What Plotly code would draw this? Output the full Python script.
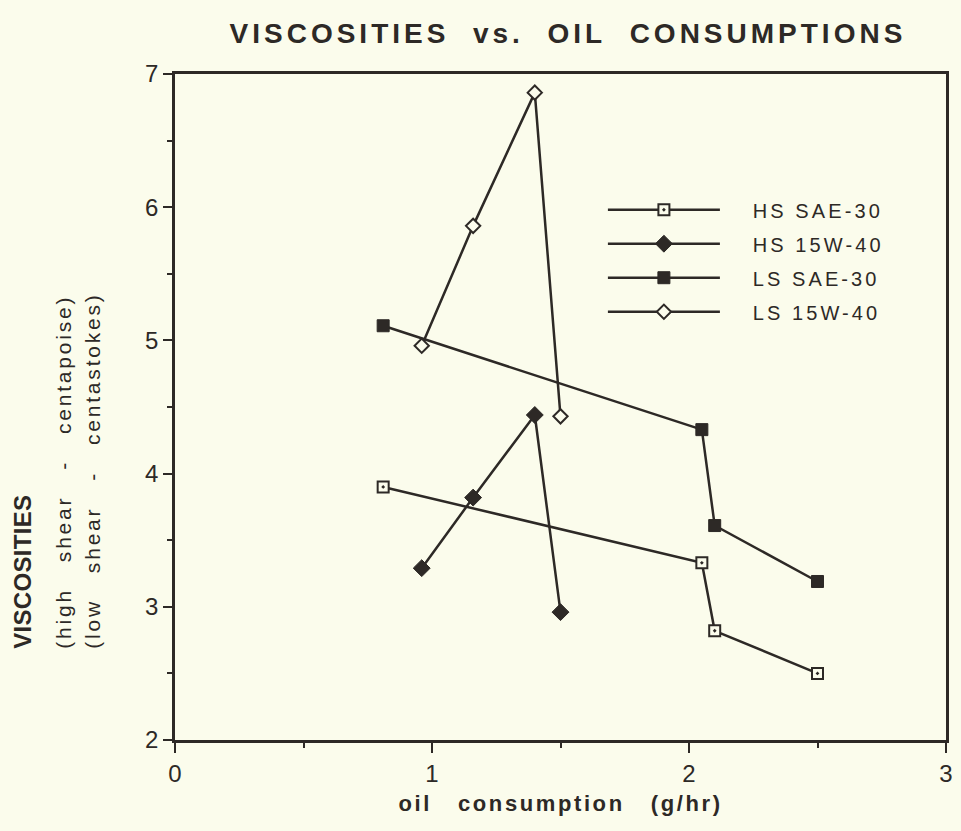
import plotly.graph_objects as go

# ---- data ----
x_hs_sae30 = [0.81, 2.05, 2.10, 2.50]
y_hs_sae30 = [3.90, 3.33, 2.82, 2.50]

x_hs_15w40 = [0.96, 1.16, 1.40, 1.50]
y_hs_15w40 = [3.29, 3.82, 4.44, 2.96]

x_ls_sae30 = [0.81, 2.05, 2.10, 2.50]
y_ls_sae30 = [5.11, 4.33, 3.61, 3.19]

x_ls_15w40 = [0.96, 1.16, 1.40, 1.50]
y_ls_15w40 = [4.96, 5.86, 6.86, 4.43]

series_names = ["HS SAE-30", "HS 15W-40", "LS SAE-30", "LS 15W-40"]
x_ticks = [0, 1, 2, 3]
y_ticks = [2, 3, 4, 5, 6, 7]

BG = "#fbfcec"
INK = "#2d2926"
FONT = "Liberation Sans, Arial, sans-serif"
SP = "&nbsp;"


def spaced(txt, ls):
    return f'<span style="letter-spacing:{ls}px">{txt}</span>'


fig = go.Figure()

styles = [
    dict(symbol="square-dot", size=11, color=BG, line=dict(color=INK, width=2)),
    dict(symbol="diamond", size=13, color=INK, line=dict(color=INK, width=1)),
    dict(symbol="square", size=12, color=INK, line=dict(color=INK, width=1)),
    dict(symbol="diamond", size=11, color=BG, line=dict(color=INK, width=2)),
]
data = [(x_hs_sae30, y_hs_sae30), (x_hs_15w40, y_hs_15w40),
        (x_ls_sae30, y_ls_sae30), (x_ls_15w40, y_ls_15w40)]

for i, ((xs, ys), name, mk) in enumerate(zip(data, series_names, styles)):
    fig.add_trace(go.Scatter(
        x=xs, y=ys, name=SP * 5 + spaced(name, 3.1), mode="lines+markers",
        line=dict(color=INK, width=2.5),
        marker=mk, legendgroup=f"g{i}", cliponaxis=False,
    ))

fig.update_layout(
    width=961, height=831,
    margin=dict(l=175, r=8, t=74, b=91),
    paper_bgcolor=BG, plot_bgcolor=BG,
    font=dict(family=FONT, color=INK, size=20),
    showlegend=True,
    legend=dict(
        x=0.555, y=0.8255, xanchor="left", yanchor="top",
        bgcolor="rgba(0,0,0,0)", borderwidth=0,
        font=dict(size=20, color=INK),
        itemwidth=112, traceorder="grouped", tracegroupgap=5,
    ),
    title=dict(
        text=spaced(f"VISCOSITIES{SP*2}vs.{SP*2}OIL{SP*2}CONSUMPTIONS", 4),
        x=0.591, xanchor="center", y=0.96, yanchor="middle",
        font=dict(size=28, family=FONT, color=INK, weight="bold"),
    ),
    xaxis=dict(
        range=[0, 3], tickvals=x_ticks, ticktext=[str(v) for v in x_ticks],
        showgrid=False, zeroline=False,
        showline=True, linecolor=INK, linewidth=2.5, mirror=True,
        ticks="outside", ticklen=10, tickwidth=2, tickcolor=INK,
        minor=dict(dtick=0.5, ticks="outside", ticklen=5, tickwidth=2, tickcolor=INK),
        tickfont=dict(size=24),
        title=dict(
            text=spaced(f"<b>oil{SP*3}consumption{SP*3}(g/hr)</b>", 2.6),
            font=dict(size=22), standoff=11,
        ),
    ),
    yaxis=dict(
        range=[2, 7], tickvals=y_ticks, ticktext=[str(v) for v in y_ticks],
        showgrid=False, zeroline=False,
        showline=True, linecolor=INK, linewidth=2.5, mirror=True,
        ticks="outside", ticklen=9, tickwidth=2, tickcolor=INK,
        minor=dict(dtick=0.5, ticks="outside", ticklen=5, tickwidth=2, tickcolor=INK),
        tickfont=dict(size=24),
    ),
)

# Y axis title: three rotated lines, bottom aligned
ylines = [
    ("<b>VISCOSITIES</b>", 0.3, 24, -152),
    (f"(high{SP*3}shear{SP*3}-{SP*3}centapoise)", 2.8, 21, -111),
    (f"(low{SP*3}shear{SP*3}-{SP*3}centastokes)", 2.8, 21, -82),
]
for txt, ls, fs, shift in ylines:
    fig.add_annotation(
        text=spaced(txt, ls), xref="paper", yref="paper", x=0, y=0.134,
        xanchor="center", yanchor="bottom", xshift=shift,
        textangle=-90, showarrow=False, font=dict(size=fs, color=INK),
    )

fig.write_html(
    "out.html",
    config={"displayModeBar": False},
    post_script=(
        "document.body.style.margin='0';"
        "document.body.style.background='" + BG + "';"
        "document.documentElement.style.overflow='hidden';"
    ),
)
